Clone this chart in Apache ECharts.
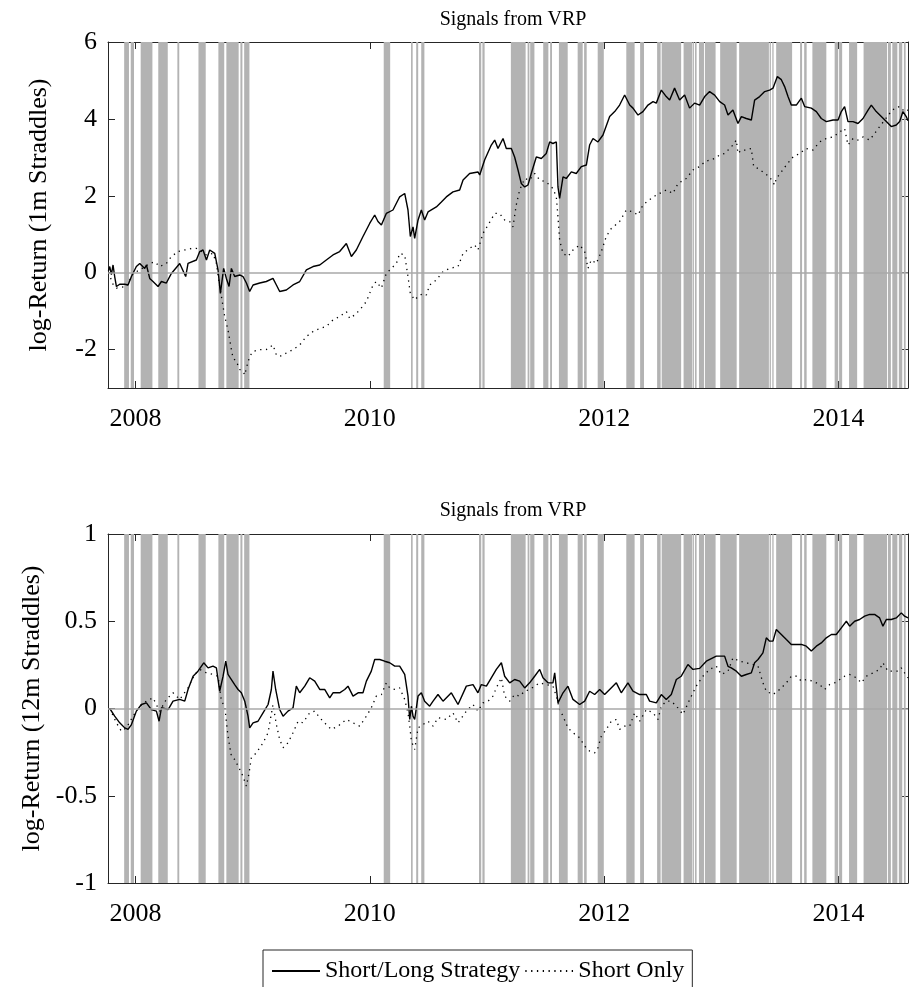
<!DOCTYPE html>
<html>
<head>
<meta charset="utf-8">
<script src="https://cdn.jsdelivr.net/npm/echarts@6/dist/echarts.min.js"></script>
<style>
  html, body { margin: 0; padding: 0; background: #fff; }
  #chart { width: 909px; height: 987px; }
</style>
</head>
<body>
<div id="chart"></div>
<script>
// Time axis in decimal years
const xMin = 2007.766;
const xMax = 2014.593;
const yearTicks = [2008, 2010, 2012, 2014];

// Periods flagged by the VRP signal (start / end, decimal years)
const signalStart = [2007.904, 2007.960, 2008.045, 2008.195, 2008.358, 2008.538, 2008.708, 2008.776, 2008.896, 2008.928,
  2010.119, 2010.352, 2010.396, 2010.439, 2010.932, 2010.961, 2011.204, 2011.347, 2011.369, 2011.480,
  2011.539, 2011.614, 2011.774, 2011.829, 2011.945, 2012.189, 2012.307, 2012.452, 2012.491, 2012.678,
  2012.755, 2012.775, 2012.809, 2012.860, 2012.990, 2013.152, 2013.412, 2013.435, 2013.468, 2013.672,
  2013.707, 2013.777, 2013.967, 2014.005, 2014.090, 2014.214, 2014.422, 2014.459, 2014.515, 2014.558];
const signalEnd = [2007.945, 2007.988, 2008.145, 2008.276, 2008.374, 2008.600, 2008.758, 2008.881, 2008.913, 2008.973,
  2010.174, 2010.366, 2010.413, 2010.466, 2010.951, 2010.980, 2011.330, 2011.362, 2011.405, 2011.524,
  2011.555, 2011.689, 2011.817, 2011.851, 2011.997, 2012.260, 2012.340, 2012.482, 2012.657, 2012.751,
  2012.766, 2012.789, 2012.852, 2012.951, 2013.131, 2013.406, 2013.423, 2013.446, 2013.604, 2013.689,
  2013.728, 2013.896, 2013.997, 2014.031, 2014.159, 2014.414, 2014.447, 2014.502, 2014.544, 2014.573];

// 1-month straddles: cumulative log-returns
const shortLong1m = [
  [2007.770, 0.05], [2007.781, 0.16], [2007.795, -0.05], [2007.809, 0.2], [2007.823, -0.1], [2007.838, -0.36],
  [2007.866, -0.3], [2007.909, -0.3], [2007.937, -0.32], [2007.966, -0.1], [2008.008, 0.16], [2008.037, 0.24],
  [2008.079, 0.11], [2008.094, 0.2], [2008.122, -0.15], [2008.150, -0.23], [2008.193, -0.36], [2008.222, -0.23],
  [2008.264, -0.27], [2008.307, -0.02], [2008.378, 0.24], [2008.429, -0.1], [2008.449, 0.24], [2008.520, 0.33],
  [2008.549, 0.55], [2008.577, 0.59], [2008.606, 0.33], [2008.634, 0.59], [2008.677, 0.5], [2008.705, 0.07],
  [2008.725, -0.54], [2008.753, 0.11], [2008.776, -0.15], [2008.799, -0.36], [2008.819, 0.11], [2008.847, -0.1],
  [2008.890, -0.06], [2008.918, -0.1], [2008.947, -0.27], [2008.975, -0.49], [2009.004, -0.32], [2009.061, -0.27],
  [2009.117, -0.23], [2009.174, -0.15], [2009.203, -0.32], [2009.231, -0.49], [2009.288, -0.45], [2009.345, -0.32],
  [2009.402, -0.23], [2009.459, 0.07], [2009.516, 0.16], [2009.573, 0.2], [2009.629, 0.33], [2009.686, 0.46],
  [2009.743, 0.55], [2009.800, 0.76], [2009.843, 0.42], [2009.885, 0.59], [2009.942, 0.94], [2009.999, 1.28],
  [2010.042, 1.5], [2010.070, 1.33], [2010.099, 1.24], [2010.141, 1.54], [2010.198, 1.63], [2010.241, 1.89],
  [2010.255, 1.97], [2010.298, 2.06], [2010.326, 1.63], [2010.346, 0.94], [2010.369, 1.19], [2010.383, 0.89],
  [2010.412, 1.37], [2010.440, 1.63], [2010.468, 1.37], [2010.497, 1.58], [2010.568, 1.71], [2010.611, 1.84],
  [2010.653, 1.97], [2010.710, 2.1], [2010.767, 2.15], [2010.796, 2.41], [2010.852, 2.58], [2010.923, 2.62],
  [2010.938, 2.54], [2010.980, 2.93], [2011.037, 3.32], [2011.066, 3.45], [2011.094, 3.23], [2011.137, 3.49],
  [2011.165, 3.23], [2011.208, 3.23], [2011.236, 3.01], [2011.265, 2.67], [2011.293, 2.32], [2011.322, 2.23],
  [2011.350, 2.28], [2011.378, 2.58], [2011.421, 3.01], [2011.464, 2.97], [2011.506, 3.1], [2011.535, 3.4],
  [2011.563, 3.36], [2011.592, 3.4], [2011.606, 2.23], [2011.620, 1.93], [2011.649, 2.49], [2011.677, 2.45],
  [2011.720, 2.62], [2011.762, 2.58], [2011.805, 2.76], [2011.848, 2.8], [2011.876, 3.32], [2011.905, 3.49],
  [2011.947, 3.4], [2011.990, 3.58], [2012.047, 4.06], [2012.090, 4.19], [2012.132, 4.36], [2012.175, 4.62],
  [2012.218, 4.36], [2012.246, 4.28], [2012.289, 4.1], [2012.331, 4.19], [2012.374, 4.36], [2012.417, 4.45],
  [2012.445, 4.41], [2012.488, 4.75], [2012.530, 4.58], [2012.559, 4.49], [2012.601, 4.8], [2012.644, 4.49],
  [2012.687, 4.62], [2012.729, 4.28], [2012.772, 4.41], [2012.815, 4.36], [2012.858, 4.58], [2012.900, 4.71],
  [2012.943, 4.62], [2012.986, 4.45], [2013.028, 4.36], [2013.057, 4.1], [2013.099, 4.23], [2013.142, 3.88],
  [2013.171, 4.06], [2013.213, 4.01], [2013.256, 3.97], [2013.284, 4.49], [2013.327, 4.58], [2013.370, 4.71],
  [2013.412, 4.75], [2013.441, 4.8], [2013.478, 5.1], [2013.512, 5.02], [2013.540, 4.84], [2013.569, 4.58],
  [2013.597, 4.36], [2013.640, 4.36], [2013.683, 4.54], [2013.711, 4.32], [2013.768, 4.28], [2013.811, 4.19],
  [2013.853, 4.01], [2013.896, 3.93], [2013.953, 3.97], [2013.996, 3.97], [2014.024, 4.19], [2014.052, 4.32],
  [2014.081, 3.93], [2014.124, 3.93], [2014.166, 3.88], [2014.209, 4.01], [2014.252, 4.23], [2014.280, 4.36],
  [2014.322, 4.19], [2014.365, 4.06], [2014.408, 3.93], [2014.450, 3.8], [2014.493, 3.84], [2014.522, 3.93],
  [2014.550, 4.19], [2014.578, 4.06], [2014.593, 3.95]
];
const shortOnly1m = [
  [2007.770, 0.0], [2007.809, -0.3], [2007.838, -0.4], [2007.923, -0.36], [2007.980, -0.02], [2008.037, 0.07],
  [2008.122, 0.24], [2008.165, 0.28], [2008.207, 0.16], [2008.264, 0.24], [2008.307, 0.42], [2008.364, 0.55],
  [2008.421, 0.59], [2008.478, 0.63], [2008.520, 0.63], [2008.549, 0.59], [2008.606, 0.46], [2008.662, 0.5],
  [2008.691, 0.24], [2008.719, -0.36], [2008.734, -0.62], [2008.762, -1.14], [2008.790, -1.49], [2008.819, -2.0],
  [2008.833, -2.22], [2008.862, -2.31], [2008.890, -2.52], [2008.918, -2.57], [2008.933, -2.66], [2008.947, -2.48],
  [2008.975, -2.18], [2009.004, -2.05], [2009.061, -2.0], [2009.117, -2.0], [2009.174, -1.88], [2009.203, -2.14],
  [2009.231, -2.18], [2009.288, -2.09], [2009.345, -2.0], [2009.402, -1.88], [2009.459, -1.66], [2009.516, -1.53],
  [2009.573, -1.45], [2009.629, -1.4], [2009.686, -1.23], [2009.743, -1.14], [2009.800, -1.01], [2009.829, -1.19],
  [2009.871, -1.1], [2009.914, -0.97], [2009.971, -0.75], [2010.028, -0.32], [2010.056, -0.23], [2010.099, -0.4],
  [2010.141, -0.02], [2010.184, 0.11], [2010.227, 0.24], [2010.255, 0.5], [2010.298, 0.46], [2010.326, -0.1],
  [2010.346, -0.54], [2010.383, -0.71], [2010.412, -0.62], [2010.454, -0.54], [2010.483, -0.58], [2010.511, -0.32],
  [2010.568, -0.19], [2010.625, 0.03], [2010.682, 0.11], [2010.753, 0.16], [2010.796, 0.5], [2010.852, 0.63],
  [2010.895, 0.72], [2010.923, 0.59], [2010.966, 1.02], [2011.009, 1.24], [2011.066, 1.54], [2011.108, 1.54],
  [2011.151, 1.37], [2011.194, 1.33], [2011.222, 1.19], [2011.250, 1.76], [2011.279, 2.15], [2011.322, 2.45],
  [2011.364, 2.41], [2011.407, 2.58], [2011.450, 2.41], [2011.506, 2.36], [2011.563, 2.19], [2011.592, 1.97],
  [2011.606, 1.45], [2011.620, 0.85], [2011.649, 0.5], [2011.691, 0.42], [2011.734, 0.59], [2011.791, 0.72],
  [2011.834, 0.55], [2011.862, 0.11], [2011.890, 0.33], [2011.933, 0.24], [2011.976, 0.55], [2012.018, 0.94],
  [2012.061, 1.15], [2012.132, 1.33], [2012.189, 1.63], [2012.246, 1.58], [2012.289, 1.5], [2012.331, 1.76],
  [2012.417, 1.97], [2012.473, 2.06], [2012.530, 2.15], [2012.587, 2.06], [2012.630, 2.32], [2012.701, 2.45],
  [2012.758, 2.67], [2012.815, 2.76], [2012.858, 2.88], [2012.900, 2.93], [2012.943, 2.97], [2012.986, 3.06],
  [2013.028, 3.1], [2013.071, 3.23], [2013.099, 3.32], [2013.128, 3.45], [2013.142, 3.1], [2013.171, 3.19],
  [2013.213, 3.19], [2013.256, 3.23], [2013.276, 2.76], [2013.313, 2.71], [2013.355, 2.62], [2013.412, 2.49],
  [2013.455, 2.28], [2013.469, 2.45], [2013.512, 2.62], [2013.555, 2.8], [2013.612, 3.01], [2013.668, 3.1],
  [2013.725, 3.23], [2013.782, 3.19], [2013.839, 3.4], [2013.896, 3.49], [2013.953, 3.53], [2014.010, 3.66],
  [2014.052, 3.75], [2014.081, 3.32], [2014.124, 3.49], [2014.166, 3.45], [2014.209, 3.53], [2014.266, 3.45],
  [2014.308, 3.62], [2014.351, 3.8], [2014.394, 3.97], [2014.436, 4.14], [2014.479, 4.28], [2014.522, 4.32],
  [2014.564, 4.19], [2014.593, 4.23]
];

// 12-month straddles: cumulative log-returns
const shortLong12m = [
  [2007.781, 0.0], [2007.823, -0.044], [2007.866, -0.082], [2007.909, -0.111], [2007.937, -0.12], [2007.966, -0.092],
  [2008.008, -0.015], [2008.051, 0.023], [2008.094, 0.032], [2008.136, -0.006], [2008.179, -0.015], [2008.202, -0.073],
  [2008.222, 0.004], [2008.279, -0.006], [2008.321, 0.042], [2008.378, 0.052], [2008.421, 0.042], [2008.449, 0.109],
  [2008.492, 0.185], [2008.534, 0.214], [2008.583, 0.262], [2008.620, 0.233], [2008.662, 0.243], [2008.691, 0.233],
  [2008.719, 0.099], [2008.748, 0.185], [2008.771, 0.271], [2008.790, 0.195], [2008.819, 0.166], [2008.847, 0.137],
  [2008.876, 0.109], [2008.904, 0.09], [2008.933, 0.042], [2008.961, -0.044], [2008.975, -0.111], [2009.004, -0.082],
  [2009.046, -0.073], [2009.089, -0.025], [2009.132, 0.023], [2009.160, 0.109], [2009.174, 0.214], [2009.197, 0.109],
  [2009.231, -0.006], [2009.260, -0.044], [2009.302, -0.015], [2009.345, 0.004], [2009.373, 0.128], [2009.402, 0.09],
  [2009.445, 0.128], [2009.487, 0.176], [2009.530, 0.157], [2009.573, 0.109], [2009.615, 0.109], [2009.658, 0.061],
  [2009.686, 0.09], [2009.743, 0.09], [2009.786, 0.109], [2009.814, 0.128], [2009.857, 0.071], [2009.900, 0.09],
  [2009.942, 0.09], [2009.971, 0.157], [2010.013, 0.214], [2010.042, 0.281], [2010.085, 0.281], [2010.127, 0.271],
  [2010.170, 0.262], [2010.213, 0.243], [2010.255, 0.243], [2010.298, 0.195], [2010.326, 0.071], [2010.341, -0.063],
  [2010.355, 0.013], [2010.369, -0.044], [2010.383, -0.063], [2010.412, 0.071], [2010.440, 0.09], [2010.468, 0.042],
  [2010.511, 0.013], [2010.540, 0.042], [2010.582, 0.08], [2010.625, 0.042], [2010.696, 0.09], [2010.753, 0.023],
  [2010.824, 0.128], [2010.881, 0.137], [2010.923, 0.09], [2010.952, 0.137], [2010.995, 0.128], [2011.037, 0.176],
  [2011.080, 0.224], [2011.123, 0.262], [2011.151, 0.185], [2011.194, 0.147], [2011.236, 0.166], [2011.279, 0.157],
  [2011.322, 0.118], [2011.364, 0.147], [2011.407, 0.185], [2011.450, 0.224], [2011.478, 0.176], [2011.521, 0.147],
  [2011.563, 0.147], [2011.578, 0.204], [2011.606, 0.032], [2011.649, 0.09], [2011.691, 0.128], [2011.734, 0.052],
  [2011.791, 0.023], [2011.834, 0.042], [2011.876, 0.099], [2011.919, 0.08], [2011.962, 0.109], [2012.004, 0.08],
  [2012.047, 0.109], [2012.104, 0.147], [2012.146, 0.09], [2012.203, 0.147], [2012.246, 0.099], [2012.303, 0.08],
  [2012.360, 0.08], [2012.388, 0.042], [2012.445, 0.032], [2012.488, 0.08], [2012.530, 0.052], [2012.573, 0.08],
  [2012.616, 0.166], [2012.658, 0.185], [2012.715, 0.252], [2012.758, 0.224], [2012.815, 0.23], [2012.872, 0.271],
  [2012.957, 0.3], [2013.028, 0.3], [2013.057, 0.242], [2013.085, 0.233], [2013.128, 0.214], [2013.171, 0.185],
  [2013.213, 0.195], [2013.256, 0.204], [2013.284, 0.262], [2013.313, 0.281], [2013.355, 0.319], [2013.384, 0.405],
  [2013.412, 0.386], [2013.441, 0.386], [2013.469, 0.453], [2013.512, 0.424], [2013.555, 0.395], [2013.597, 0.367],
  [2013.640, 0.367], [2013.683, 0.367], [2013.725, 0.357], [2013.768, 0.329], [2013.811, 0.357], [2013.853, 0.376],
  [2013.896, 0.405], [2013.939, 0.424], [2013.981, 0.424], [2014.024, 0.462], [2014.067, 0.5], [2014.095, 0.472],
  [2014.138, 0.5], [2014.180, 0.51], [2014.223, 0.529], [2014.266, 0.539], [2014.308, 0.539], [2014.351, 0.519],
  [2014.379, 0.472], [2014.408, 0.51], [2014.450, 0.51], [2014.493, 0.519], [2014.536, 0.548], [2014.564, 0.529],
  [2014.593, 0.519]
];
const shortOnly12m = [
  [2007.781, 0.0], [2007.838, -0.082], [2007.880, -0.13], [2007.923, -0.111], [2007.980, -0.044], [2008.037, 0.013],
  [2008.094, 0.042], [2008.150, 0.061], [2008.207, -0.015], [2008.264, 0.052], [2008.321, 0.09], [2008.378, 0.052],
  [2008.449, 0.118], [2008.506, 0.195], [2008.549, 0.224], [2008.606, 0.204], [2008.662, 0.195], [2008.705, 0.185],
  [2008.734, 0.042], [2008.762, 0.013], [2008.790, -0.158], [2008.819, -0.273], [2008.847, -0.292], [2008.890, -0.349],
  [2008.918, -0.388], [2008.947, -0.445], [2008.970, -0.369], [2008.989, -0.283], [2009.032, -0.254], [2009.089, -0.197],
  [2009.132, -0.139], [2009.174, 0.023], [2009.203, -0.092], [2009.231, -0.178], [2009.260, -0.225], [2009.302, -0.197],
  [2009.345, -0.139], [2009.388, -0.073], [2009.430, -0.082], [2009.487, -0.025], [2009.530, -0.015], [2009.573, -0.053],
  [2009.629, -0.092], [2009.672, -0.12], [2009.729, -0.101], [2009.800, -0.063], [2009.857, -0.082], [2009.914, -0.101],
  [2009.942, -0.073], [2009.971, -0.044], [2010.013, 0.004], [2010.056, 0.071], [2010.099, 0.08], [2010.141, 0.147],
  [2010.170, 0.118], [2010.213, 0.109], [2010.255, 0.118], [2010.298, 0.052], [2010.326, -0.025], [2010.341, -0.101],
  [2010.355, -0.187], [2010.383, -0.235], [2010.412, -0.111], [2010.454, -0.092], [2010.497, -0.073], [2010.540, -0.101],
  [2010.582, -0.053], [2010.653, -0.063], [2010.710, -0.025], [2010.753, -0.082], [2010.824, -0.015], [2010.881, 0.023],
  [2010.923, -0.015], [2010.966, 0.032], [2011.009, 0.042], [2011.051, 0.071], [2011.080, 0.118], [2011.123, 0.176],
  [2011.151, 0.071], [2011.194, 0.042], [2011.236, 0.08], [2011.279, 0.071], [2011.322, 0.099], [2011.364, 0.109],
  [2011.407, 0.128], [2011.450, 0.147], [2011.506, 0.137], [2011.563, 0.128], [2011.592, 0.071], [2011.620, -0.006],
  [2011.649, -0.044], [2011.691, -0.111], [2011.734, -0.139], [2011.791, -0.168], [2011.834, -0.216], [2011.876, -0.244],
  [2011.919, -0.254], [2011.947, -0.225], [2011.976, -0.158], [2012.018, -0.12], [2012.061, -0.073], [2012.104, -0.063],
  [2012.132, -0.12], [2012.175, -0.101], [2012.218, -0.101], [2012.260, -0.025], [2012.303, -0.073], [2012.360, -0.006],
  [2012.417, -0.025], [2012.459, -0.063], [2012.488, 0.013], [2012.530, 0.042], [2012.573, 0.042], [2012.616, 0.013],
  [2012.673, -0.034], [2012.730, 0.052], [2012.786, 0.128], [2012.843, 0.185], [2012.900, 0.224], [2012.957, 0.243],
  [2013.000, 0.195], [2013.057, 0.214], [2013.099, 0.29], [2013.156, 0.271], [2013.213, 0.262], [2013.270, 0.252],
  [2013.313, 0.243], [2013.355, 0.147], [2013.384, 0.099], [2013.441, 0.08], [2013.498, 0.109], [2013.555, 0.147],
  [2013.597, 0.185], [2013.640, 0.185], [2013.683, 0.157], [2013.725, 0.166], [2013.782, 0.157], [2013.839, 0.137],
  [2013.882, 0.109], [2013.924, 0.137], [2013.967, 0.147], [2014.010, 0.166], [2014.052, 0.185], [2014.095, 0.195],
  [2014.152, 0.176], [2014.195, 0.147], [2014.237, 0.185], [2014.294, 0.204], [2014.351, 0.224], [2014.379, 0.262],
  [2014.422, 0.214], [2014.465, 0.214], [2014.507, 0.214], [2014.536, 0.233], [2014.564, 0.204], [2014.593, 0.176]
];

const FONT = '"Liberation Serif", "Times New Roman", serif';
const INK = '#262626';
const BAND = '#b3b3b3';
const AXIS_FONT = 26;

const panels = [
  { title: 'Signals from VRP', yName: 'log-Return (1m Straddles)', yMin: -3, yMax: 6,
    yTicks: [-2, 0, 2, 4, 6], solid: shortLong1m, dotted: shortOnly1m },
  { title: 'Signals from VRP', yName: 'log-Return (12m Straddles)', yMin: -1, yMax: 1,
    yTicks: [-1, -0.5, 0, 0.5, 1], solid: shortLong12m, dotted: shortOnly12m }
];

const grids = [
  { left: 108, right: 1, top: 42, height: 346 },
  { left: 108, right: 1, top: 534, height: 349 }
];

const bandAreas = signalStart.map((s, i) => [{ xAxis: s }, { xAxis: signalEnd[i] }]);

const xAxes = [], yAxes = [], series = [], titles = [];
panels.forEach((p, g) => {
  const bx = xAxes.length;
  // bottom axis with labels
  xAxes.push({
    type: 'value', gridIndex: g, min: xMin, max: xMax, position: 'bottom',
    axisLine: { show: true, onZero: false, lineStyle: { color: INK, width: 1 } },
    axisTick: { show: true, inside: true, length: 7, customValues: yearTicks, lineStyle: { color: INK } },
    axisLabel: { show: true, customValues: yearTicks, margin: 18, color: '#000', fontFamily: FONT, fontSize: AXIS_FONT,
      formatter: v => String(v) },
    splitLine: { show: false }
  });
  // mirrored top axis
  xAxes.push({
    type: 'value', gridIndex: g, min: xMin, max: xMax, position: 'top',
    axisLine: { show: true, onZero: false, lineStyle: { color: INK, width: 1 } },
    axisTick: { show: true, inside: true, length: 7, customValues: yearTicks, lineStyle: { color: INK } },
    axisLabel: { show: false }, splitLine: { show: false }
  });
  const ly = yAxes.length;
  yAxes.push({
    type: 'value', gridIndex: g, min: p.yMin, max: p.yMax, position: 'left',
    name: p.yName, nameLocation: 'middle', nameRotate: 90, nameGap: 56,
    nameTextStyle: { fontFamily: FONT, fontSize: AXIS_FONT, color: '#000' },
    axisLine: { show: true, onZero: false, lineStyle: { color: INK, width: 1 } },
    axisTick: { show: true, inside: true, length: 7, customValues: p.yTicks, lineStyle: { color: INK } },
    axisLabel: { show: true, customValues: p.yTicks, margin: 11, color: '#000', fontFamily: FONT, fontSize: AXIS_FONT,
      formatter: v => String(v) },
    splitLine: { show: false }
  });
  yAxes.push({
    type: 'value', gridIndex: g, min: p.yMin, max: p.yMax, position: 'right',
    axisLine: { show: true, onZero: false, lineStyle: { color: INK, width: 1 } },
    axisTick: { show: true, inside: true, length: 7, customValues: p.yTicks, lineStyle: { color: INK } },
    axisLabel: { show: false }, splitLine: { show: false }
  });

  // shaded signal periods
  series.push({
    type: 'line', xAxisIndex: bx, yAxisIndex: ly, data: [], silent: true, z: 1,
    markArea: { silent: true, itemStyle: { color: BAND, opacity: 1, borderWidth: 0 }, data: bandAreas }
  });
  // zero reference
  series.push({
    type: 'line', xAxisIndex: bx, yAxisIndex: ly, data: [], silent: true, z: 2,
    markLine: { silent: true, symbol: 'none', label: { show: false },
      lineStyle: { color: '#a9a9a9', width: 1.6, type: 'solid' }, data: [{ yAxis: 0 }] }
  });
  series.push({
    name: 'Short/Long Strategy', type: 'line', xAxisIndex: bx, yAxisIndex: ly, z: 4,
    data: p.solid, symbol: 'none', showSymbol: false, smooth: false,
    lineStyle: { color: '#000', width: 1.4 }, itemStyle: { color: '#000' }
  });
  series.push({
    name: 'Short Only', type: 'line', xAxisIndex: bx, yAxisIndex: ly, z: 3,
    data: p.dotted, symbol: 'none', showSymbol: false, smooth: false,
    lineStyle: { color: '#000', width: 1.3, type: [1.3, 4.5] }, itemStyle: { color: '#000' }
  });

  titles.push({
    text: p.title, left: 508, top: g === 0 ? 5 : 496, textAlign: 'center',
    textStyle: { fontFamily: FONT, fontSize: 20, fontWeight: 'normal', color: '#000' }
  });
});

const chart = echarts.init(document.getElementById('chart'), null, { renderer: 'canvas' });
chart.setOption({
  backgroundColor: '#fff',
  animation: false,
  title: titles,
  grid: grids,
  xAxis: xAxes,
  yAxis: yAxes,
  series: series,
  legend: {
    data: ['Short/Long Strategy', 'Short Only'],
    left: 263, top: 950,
    orient: 'horizontal',
    itemWidth: 48, itemHeight: 10, itemGap: 4,
    padding: [9, 8, 40, 8],
    borderColor: INK, borderWidth: 1,
    itemStyle: { opacity: 0 },
    textStyle: { fontFamily: FONT, fontSize: 24, color: '#000' },
    selectedMode: false
  }
});
</script>
</body>
</html>
